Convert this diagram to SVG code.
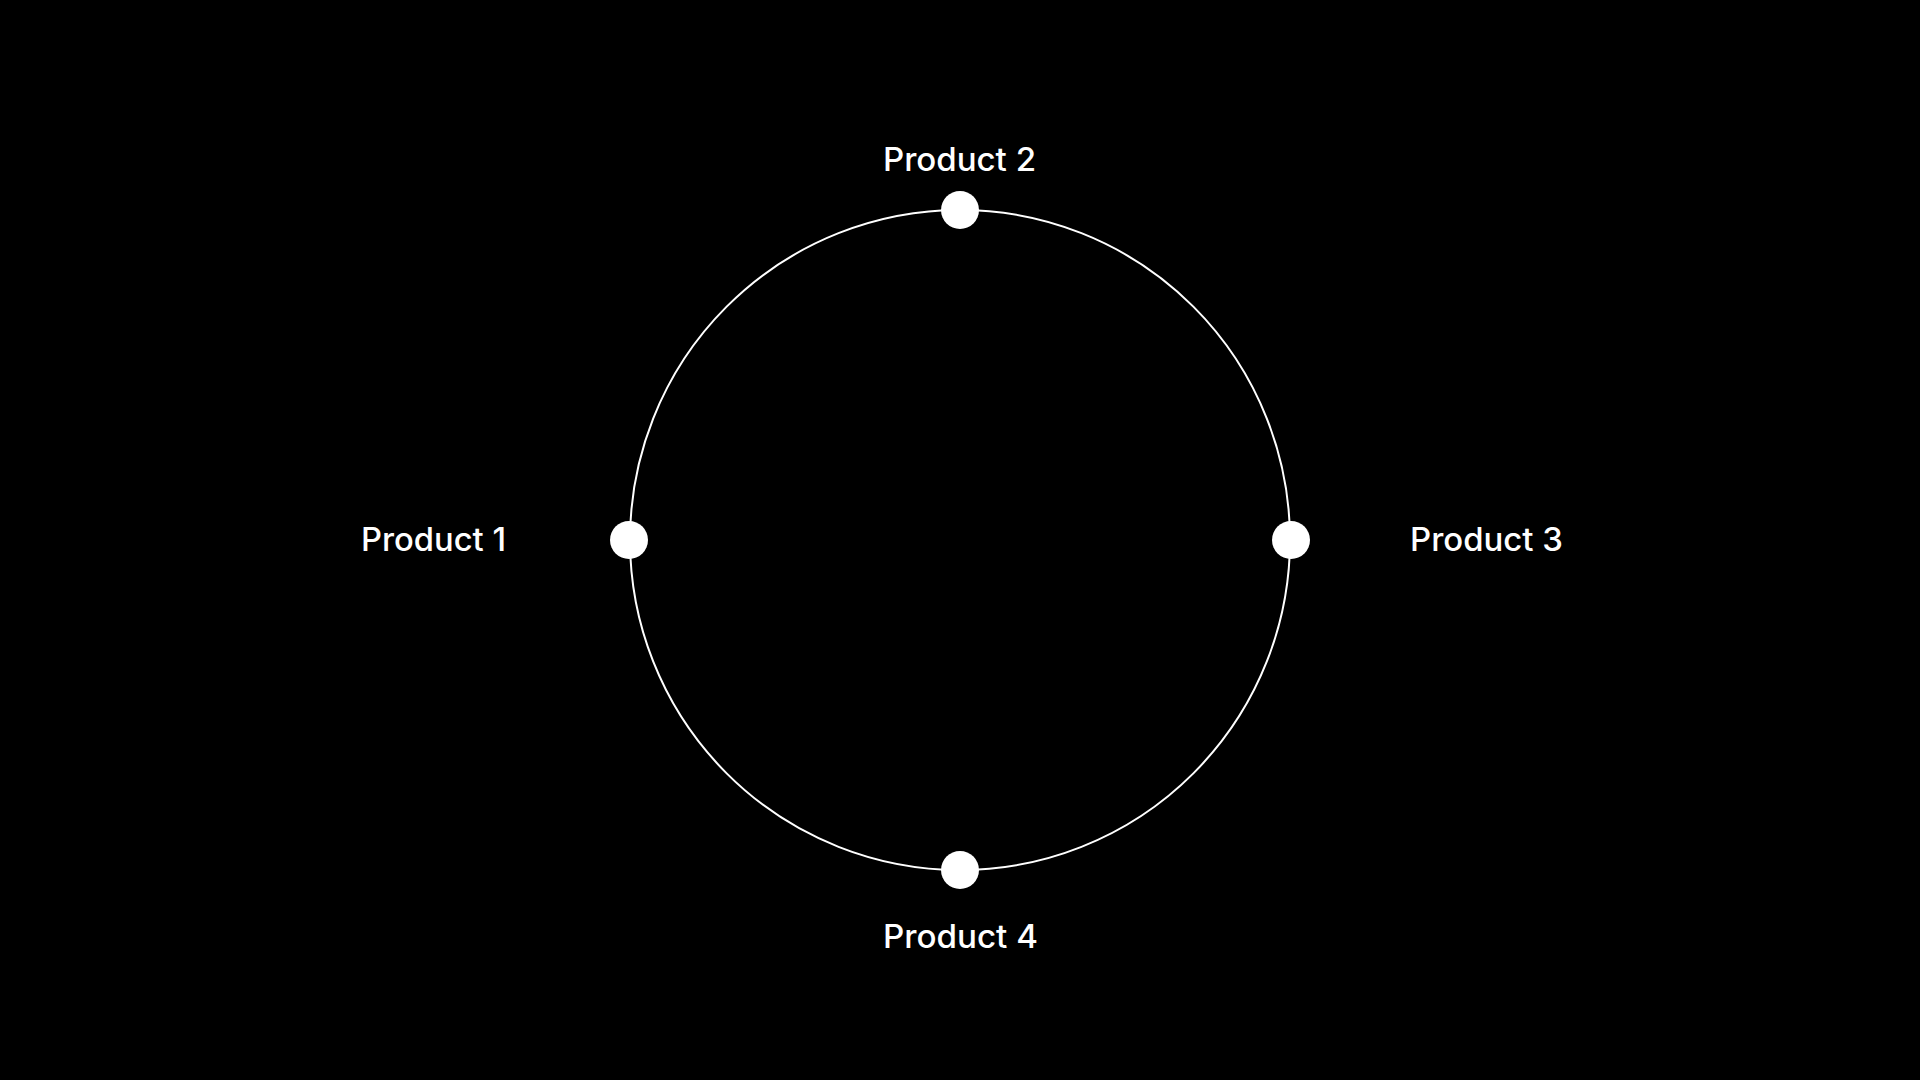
<svg xmlns="http://www.w3.org/2000/svg" width="1920" height="1080" viewBox="0 0 1920 1080">
<style>
.lbl{fill:#ffffff;font-family:Inter,"Open Sans","Liberation Sans",sans-serif;font-size:32px;font-weight:500;}
.dot{fill:#ffffff;}
</style>
<rect x="0" y="0" width="1920" height="1080" fill="#000000"/>
<g id="connectors">
<circle cx="960" cy="540" r="330" fill="none" stroke="#ffffff" stroke-width="2"/>
</g>
<g id="product1">
<circle class="dot" cx="629" cy="540" r="19"/>
<text class="lbl" x="361" y="551" textLength="145" lengthAdjust="spacingAndGlyphs">Product 1</text>
</g>
<g id="product2">
<circle class="dot" cx="960" cy="210" r="19"/>
<text class="lbl" x="883" y="171" textLength="153" lengthAdjust="spacingAndGlyphs">Product 2</text>
</g>
<g id="product3">
<circle class="dot" cx="1291" cy="540" r="19"/>
<text class="lbl" x="1410" y="551" textLength="153" lengthAdjust="spacingAndGlyphs">Product 3</text>
</g>
<g id="product4">
<circle class="dot" cx="960" cy="870" r="19"/>
<text class="lbl" x="883" y="948" textLength="155" lengthAdjust="spacingAndGlyphs">Product 4</text>
</g>
</svg>
